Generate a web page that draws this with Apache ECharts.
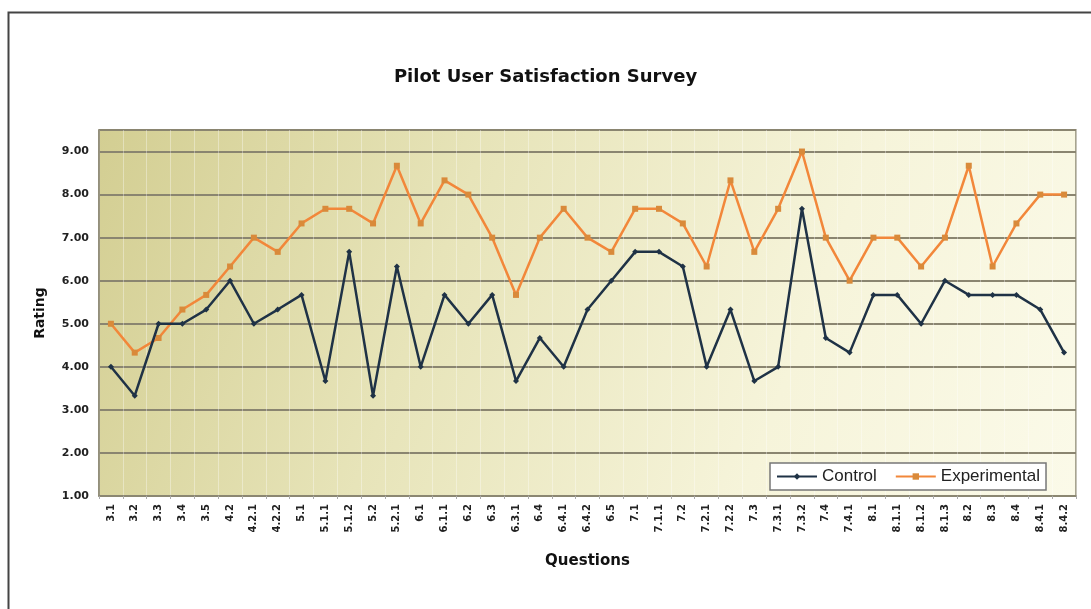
<!DOCTYPE html>
<html>
<head>
<meta charset="utf-8">
<script src="https://cdn.jsdelivr.net/npm/echarts@6/dist/echarts.min.js"></script>
<style>
html,body{margin:0;padding:0;background:#ffffff;}
#chart{width:1091px;height:609px;}
</style>
</head>
<body>
<div id="chart"></div>
<script>
const categories = ['3.1','3.2','3.3','3.4','3.5','4.2','4.2.1','4.2.2','5.1','5.1.1','5.1.2','5.2','5.2.1','6.1','6.1.1','6.2','6.3','6.3.1','6.4','6.4.1','6.4.2','6.5','7.1','7.1.1','7.2','7.2.1','7.2.2','7.3','7.3.1','7.3.2','7.4','7.4.1','8.1','8.1.1','8.1.2','8.1.3','8.2','8.3','8.4','8.4.1','8.4.2'];
const control = [4.00,3.33,5.00,5.00,5.33,6.00,5.00,5.33,5.67,3.67,6.67,3.33,6.33,4.00,5.67,5.00,5.67,3.67,4.67,4.00,5.33,6.00,6.67,6.67,6.33,4.00,5.33,3.67,4.00,7.67,4.67,4.33,5.67,5.67,5.00,6.00,5.67,5.67,5.67,5.33,4.33];
const experimental = [5.00,4.33,4.67,5.33,5.67,6.33,7.00,6.67,7.33,7.67,7.67,7.33,8.67,7.33,8.33,8.00,7.00,5.67,7.00,7.67,7.00,6.67,7.67,7.67,7.33,6.33,8.33,6.67,7.67,9.00,7.00,6.00,7.00,7.00,6.33,7.00,8.67,6.33,7.33,8.00,8.00];
const yTicks = [1,2,3,4,5,6,7,8,9];

const BOLD = 'DejaVu Sans, Liberation Sans, Arial, sans-serif';
const REG = 'Liberation Sans, Arial, sans-serif';
const chart = echarts.init(document.getElementById('chart'), null, {renderer:'canvas'});
chart.setOption({
  backgroundColor: '#ffffff',
  animation: false,
  graphic: [{
    type: 'rect',
    left: 6, top: 10,
    shape: {width: 1120, height: 640},
    style: {fill: 'none', stroke: '#444444', lineWidth: 2},
    silent: true, z: -10
  }],
  title: {
    text: 'Pilot User Satisfaction Survey',
    left: 'center', top: 63,
    textStyle: {fontFamily: BOLD, fontWeight: 'bold', fontSize: 18, color: '#111111'}
  },
  legend: {
    left: 770, top: 463,
    itemWidth: 40, itemHeight: 8,
    itemGap: 18,
    padding: [5, 6, 5, 6],
    backgroundColor: '#ffffff',
    borderColor: '#777777', borderWidth: 1.5,
    textStyle: {fontFamily: REG, fontSize: 17, color: '#222222'},
    data: ['Control', 'Experimental']
  },
  grid: {
    left: 99, right: 15, top: 130, bottom: 113,
    show: true,
    borderColor: '#8c8873', borderWidth: 1.5,
    backgroundColor: new echarts.graphic.LinearGradient(0, 0, 1, 1, [
      {offset: 0, color: '#d3ce92'},
      {offset: 0.35, color: '#e7e4b9'},
      {offset: 0.7, color: '#f6f4da'},
      {offset: 1, color: '#fbfae9'}
    ])
  },
  xAxis: {
    type: 'category',
    data: categories,
    boundaryGap: true,
    name: 'Questions',
    nameLocation: 'middle',
    nameGap: 58,
    nameTextStyle: {fontFamily: BOLD, fontWeight: 'bold', fontSize: 15, color: '#111111'},
    axisLine: {show: true, lineStyle: {color: '#8c8873', width: 1.5}},
    axisTick: {show: true, length: 3, lineStyle: {color: '#aaaaaa'}},
    axisLabel: {
      rotate: 90, interval: 0, margin: 8,
      fontFamily: BOLD, fontWeight: 'bold', fontSize: 10, color: '#222222'
    },
    splitLine: {show: true, lineStyle: {color: 'rgba(255,255,255,0.35)', width: 1}}
  },
  yAxis: {
    type: 'value',
    min: 1, max: 9.5, interval: 1,
    name: 'Rating',
    nameLocation: 'middle',
    nameGap: 52,
    nameRotate: 90,
    nameTextStyle: {fontFamily: BOLD, fontWeight: 'bold', fontSize: 14, color: '#111111'},
    axisLine: {show: true, lineStyle: {color: '#8c8873', width: 1.5}},
    axisTick: {show: false},
    axisLabel: {
      margin: 10,
      fontFamily: BOLD, fontWeight: 'bold', fontSize: 11, color: '#222222',
      formatter: function (v) { return yTicks.indexOf(v) >= 0 ? v.toFixed(2) : ''; }
    },
    splitLine: {show: true, lineStyle: {color: '#8a8570', width: 2}}
  },
  series: [
    {
      name: 'Control',
      type: 'line',
      data: control,
      symbol: 'diamond', symbolSize: 6,
      lineStyle: {color: '#1f3246', width: 2.5},
      itemStyle: {color: '#1f3246'},
      z: 3
    },
    {
      name: 'Experimental',
      type: 'line',
      data: experimental,
      symbol: 'rect', symbolSize: 6,
      lineStyle: {color: '#f2873a', width: 2.5},
      itemStyle: {color: '#d98a3a'},
      z: 2
    }
  ]
});
</script>
</body>
</html>
